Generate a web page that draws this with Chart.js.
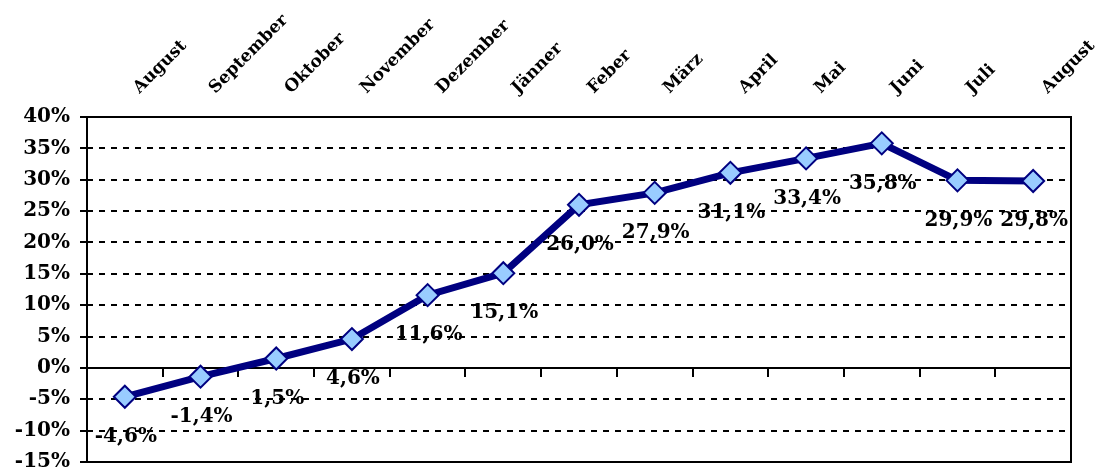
<!DOCTYPE html>
<html>
<head>
<meta charset="utf-8">
<script src="https://cdn.jsdelivr.net/npm/chart.js@4/dist/chart.umd.min.js"></script>
<style>
  html, body { margin: 0; padding: 0; background: #fff; }
  #wrap { width: 1103px; height: 471px; }
</style>
</head>
<body>
<div id="wrap"><canvas id="growthChart"></canvas></div>
<script>
const months = [
  "August", "September", "Oktober", "November", "Dezember", "Jänner",
  "Feber", "März", "April", "Mai", "Juni", "Juli", "August",
];
const growth = [-4.6, -1.4, 1.5, 4.6, 11.6, 15.1, 26.0, 27.9, 31.1, 33.4, 35.8, 29.9, 29.8];
const yMin = -15;
const yMax = 40;
const yStep = 5;

const serif = "'DejaVu Serif', serif";

function formatPercent(v) {
  return v.toFixed(1).replace(".", ",") + "%";
}

// draws the value under each point
const pointLabels = {
  id: "pointLabels",
  afterDatasetsDraw(chart) {
    const ctx = chart.ctx;
    const meta = chart.getDatasetMeta(0);
    const values = chart.data.datasets[0].data;
    ctx.save();
    ctx.font = "bold 20px " + serif;
    ctx.fillStyle = "#000";
    ctx.textAlign = "center";
    ctx.textBaseline = "middle";
    meta.data.forEach((pt, i) => {
      ctx.fillText(formatPercent(values[i]), pt.x + 1, pt.y + 40);
    });
    ctx.restore();
  },
};

// frame round the plot area
const plotFrame = {
  id: "plotFrame",
  beforeDatasetsDraw(chart) {
    const { ctx, chartArea } = chart;
    ctx.save();
    ctx.strokeStyle = "#000";
    ctx.lineWidth = 2;
    ctx.strokeRect(chartArea.left, chartArea.top, chartArea.width, chartArea.height);
    ctx.restore();
  },
};

const ctx = document.getElementById("growthChart").getContext("2d");

new Chart(ctx, {
  type: "line",
  data: {
    labels: months,
    datasets: [
      {
        data: growth,
        borderColor: "#000080",
        borderWidth: 7,
        tension: 0,
        pointStyle: "rectRot",
        pointRadius: 11,
        pointHoverRadius: 11,
        pointBackgroundColor: "#99CCFF",
        pointBorderColor: "#000080",
        pointBorderWidth: 2,
      },
    ],
  },
  options: {
    responsive: true,
    maintainAspectRatio: false,
    animation: false,
    layout: {
      autoPadding: false,
      padding: { top: 0, left: 8, right: 32, bottom: 9 },
    },
    plugins: {
      legend: { display: false },
      tooltip: { enabled: false },
    },
    scales: {
      x: {
        type: "category",
        position: "top",
        offset: true,
        grid: { display: false },
        border: { display: false },
        ticks: {
          minRotation: 45,
          maxRotation: 45,
          padding: 11,
          labelOffset: 26,
          color: "#000",
          font: { family: serif, size: 17, weight: "bold" },
        },
        afterFit: (scale) => {
          scale.height = 117;
          scale.paddingLeft = 0;
          scale.paddingRight = 0;
        },
      },
      x0: {
        type: "category",
        axis: "x",
        position: { y: 0 },
        offset: true,
        grid: {
          offset: true,
          drawOnChartArea: false,
          drawTicks: true,
          tickLength: 8,
          color: "#000",
          lineWidth: 2,
        },
        border: { display: true, color: "#000", width: 2 },
        ticks: { display: false },
      },
      y: {
        min: yMin,
        max: yMax,
        grid: {
          color: "#000",
          lineWidth: 2,
          tickLength: 7,
        },
        border: { display: false, dash: [6, 6] },
        ticks: {
          stepSize: yStep,
          padding: 10,
          color: "#000",
          font: { family: serif, size: 20, weight: "bold" },
          callback: (v) => v + "%",
        },
        afterFit: (scale) => {
          scale.width = 79;
          scale.paddingTop = 0;
          scale.paddingBottom = 0;
        },
      },
    },
  },
  plugins: [plotFrame, pointLabels],
});
</script>
</body>
</html>
